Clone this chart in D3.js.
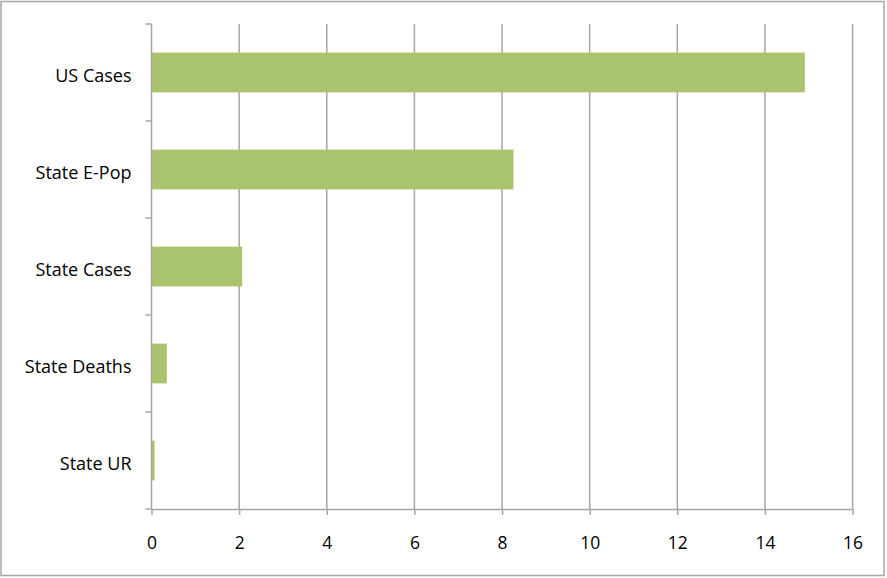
<!DOCTYPE html>
<html><head><meta charset="utf-8">
<script src="https://cdn.jsdelivr.net/npm/d3@7"></script>
<style>body{margin:0;background:#fff}svg{display:block}text{font-family:"Open Sans",sans-serif;fill:#000}</style>
</head><body><svg id="c" width="887" height="578"></svg>
<script>
const categories = ["US Cases","State E-Pop","State Cases","State Deaths","State UR"];
const values = [14.91, 8.26, 2.07, 0.35, 0.07];
const xTicks = [0,2,4,6,8,10,12,14,16];

const svg = d3.select("#c");
svg.append("rect").attr("x",1).attr("y",1.5).attr("width",883).attr("height",574)
  .attr("fill","#fff").attr("stroke","#a6a6a6").attr("stroke-width",1.5);

const m = {l:151.5, r:852.6, t:24, b:509};
const x = d3.scaleLinear().domain([0,16]).range([m.l, m.r]);
const y = d3.scaleBand().domain(categories).range([m.t, m.b]).paddingInner(0.59).paddingOuter(0.295);

// gridlines
svg.append("g").selectAll("line").data(xTicks.slice(1)).join("line")
  .attr("x1",d=>x(d)).attr("x2",d=>x(d)).attr("y1",m.t).attr("y2",m.b)
  .attr("stroke","#a6a6a6").attr("stroke-width",1.5);

// bars
svg.append("g").selectAll("rect").data(categories).join("rect")
  .attr("x",x(0)).attr("y",d=>y(d)).attr("height",y.bandwidth())
  .attr("width",(d,i)=>x(values[i])-x(0)).attr("fill","#aac46d");

// x axis
const xa = svg.append("g").attr("transform",`translate(0,${m.b})`)
  .call(d3.axisBottom(x).tickValues(xTicks).tickSize(6).tickPadding(22).tickFormat(d3.format("d")));
xa.select(".domain").attr("stroke","#a6a6a6").attr("stroke-width",1.5).attr("d",`M${m.l},0.5H${m.r}`);
xa.selectAll(".tick line").attr("stroke","#a6a6a6").attr("stroke-width",1.5);
xa.selectAll("text").attr("font-size",17.5).attr("font-family","Open Sans");

// y axis
const ya = svg.append("g").attr("transform",`translate(${m.l},0)`);
ya.append("line").attr("x1",0).attr("x2",0).attr("y1",m.t).attr("y2",m.b).attr("stroke","#a6a6a6").attr("stroke-width",1.5);
const yb = d3.range(categories.length+1).map(i=>m.t + i*(m.b-m.t)/categories.length);
ya.selectAll("line.t").data(yb).join("line").attr("class","t")
  .attr("x1",-6).attr("x2",0).attr("y1",d=>d).attr("y2",d=>d).attr("stroke","#a6a6a6").attr("stroke-width",1.5);
ya.selectAll("text").data(categories).join("text")
  .attr("x",-20).attr("y",d=>y(d)+y.bandwidth()/2+3).attr("dy","0.35em")
  .attr("text-anchor","end").attr("font-size",18).text(d=>d);
</script></body></html>
